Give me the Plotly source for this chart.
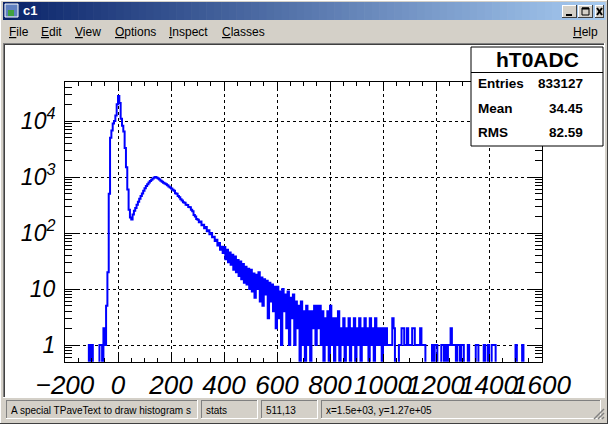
import plotly.graph_objects as go

W, H = 608, 424

# hT0ADC histogram, counts in 5-unit bins from -200 to 1600
bin_start = -200
bin_width = 5

counts_m200 = [0, 0, 0, 0, 0, 0, 0, 0, 0, 0, 0, 0, 0, 0, 0, 0, 0, 0, 1, 0]
counts_m100 = [1, 0, 0, 0, 0, 0, 1, 1, 0, 2, 1, 5, 20, 500, 5000, 6800, 9000, 10000, 12500, 20000]
counts_0 = [28000, 21000, 11000, 8200, 6500, 3300, 1500, 600, 260, 190,
            175, 215, 250, 280, 320, 360, 410, 460, 510, 570]
counts_100 = [630, 690, 740, 800, 850, 890, 940, 985, 1000, 975,
              940, 900, 860, 820, 790, 765, 745, 715, 680, 650]
counts_200 = [625, 590, 570, 515, 505, 460, 435, 400, 380, 355,
              348, 320, 315, 292, 288, 260, 245, 210, 198, 178]
counts_300 = [172, 155, 160, 138, 140, 122, 128, 108, 112, 95,
              100, 84, 86, 72, 76, 60, 66, 50, 57, 44]
counts_400 = [56, 34, 50, 30, 45, 27, 41, 22, 38, 20, 33, 17, 31, 15, 28, 13, 25, 12, 23, 10]
counts_500 = [22, 9, 19, 7, 18, 10, 20, 6, 16, 5, 15, 8, 14, 3, 13, 6, 12, 4, 11, 2]
counts_600 = [11, 3, 9, 1, 10, 4, 8, 2, 9, 1, 7, 3, 8, 1, 6, 2, 5, 0, 6, 1]
counts_700 = [4, 0, 5, 1, 4, 0, 4, 2, 5, 1, 5, 2, 5, 1, 4, 0, 3, 1, 4, 0]
counts_800 = [5, 1, 3, 0, 3, 1, 4, 0, 2, 1, 3, 0, 2, 1, 3, 0, 2, 1, 3, 0]
counts_900 = [2, 1, 3, 0, 2, 1, 3, 1, 2, 0, 3, 1, 2, 0, 3, 1, 2, 1, 2, 0]
counts_1000 = [2, 1, 2, 1, 1, 1, 1, 3, 2, 0, 0, 0, 1, 1, 2, 2, 1, 1, 2, 1]
counts_1100 = [1, 1, 2, 2, 1, 1, 1, 1, 2, 1, 1, 1, 0, 0, 0, 0, 0, 1, 0, 1]
counts_1200 = [1, 0, 0, 0, 1, 1, 0, 1, 0, 1, 1, 2, 1, 1, 1, 0, 1, 1, 0, 1]
counts_1300 = [1, 0, 0, 0, 1, 0, 0, 0, 0, 0, 1, 1, 0, 0, 0, 0, 1, 0, 0, 1]
counts_1400 = [0, 0, 1, 1, 1, 0, 0, 0, 0, 0, 0, 0, 0, 0, 0, 0, 0, 0, 0, 0]
counts_1500 = [1, 0, 0, 0, 0, 1, 0, 0, 0, 0, 0, 0, 0, 0, 0, 0, 0, 0, 0, 0]

counts = (counts_m200 + counts_m100 + counts_0 + counts_100 + counts_200 + counts_300
          + counts_400 + counts_500 + counts_600 + counts_700 + counts_800 + counts_900
          + counts_1000 + counts_1100 + counts_1200 + counts_1300 + counts_1400 + counts_1500)

x_ticks = [-200, 0, 200, 400, 600, 800, 1000, 1200, 1400, 1600]
y_ticks = [1, 10, 100, 1000, 10000]
y_ticktext = ["1", "10", "10<sup>2</sup>", "10<sup>3</sup>", "10<sup>4</sup>"]

stats_title = "hT0ADC"
stats_names = ["Entries", "Mean", "RMS"]
stats_values = ["833127", "34.45", "82.59"]

menu_items = ["<u>F</u>ile", "<u>E</u>dit", "<u>V</u>iew", "<u>O</u>ptions", "<u>I</u>nspect", "<u>C</u>lasses"]
menu_x = [8, 40, 74, 114, 168, 221]
status_texts = ["A special TPaveText to draw histogram s", "stats", "511,13", "x=1.5e+03, y=1.27e+05"]
status_x = [(6, 198), (201, 258), (261, 318), (321, 601)]

GRAY = "#d4d0c8"
FONT = "Liberation Sans"


def px(x):
    return x / W


def py(y):
    return 1 - y / H


shapes = []
annotations = []


def rect(x0, y0, x1, y1, fill=None, line=None, lw=1, layer="below"):
    shapes.append(dict(type="rect", xref="paper", yref="paper",
                       x0=px(x0), x1=px(x1), y0=py(y1), y1=py(y0),
                       fillcolor=fill if fill else "rgba(0,0,0,0)",
                       line=dict(color=line if line else "rgba(0,0,0,0)", width=lw if line else 0),
                       layer=layer))


def hline(x0, x1, y, color, lw=1, layer="below"):
    shapes.append(dict(type="line", xref="paper", yref="paper",
                       x0=px(x0), x1=px(x1), y0=py(y), y1=py(y),
                       line=dict(color=color, width=lw), layer=layer))


def vline(x, y0, y1, color, lw=1, layer="below"):
    shapes.append(dict(type="line", xref="paper", yref="paper",
                       x0=px(x), x1=px(x), y0=py(y0), y1=py(y1),
                       line=dict(color=color, width=lw), layer=layer))


def text(x, y, s, size=12, color="black", anchor="left", bold=False, family=FONT):
    annotations.append(dict(xref="paper", yref="paper", x=px(x), y=py(y), text=s,
                            showarrow=False, xanchor=anchor, yanchor="middle",
                            borderpad=0,
                            font=dict(family=family, size=size, color=color,
                                      weight="bold" if bold else "normal")))


def sunken(x0, y0, x1, y1):
    hline(x0, x1, y0 + 0.5, "#808080")
    vline(x0 + 0.5, y0, y1, "#808080")
    hline(x0, x1, y1 - 0.5, "#ffffff")
    vline(x1 - 0.5, y0, y1, "#ffffff")


# window frame
hline(0, W, 0.5, "#ffffff")
vline(0.5, 0, H, "#ffffff")
hline(0, W, H - 0.5, "#404040")
vline(W - 0.5, 0, H, "#404040")

# title bar gradient
n_strips = 80
tx0, tx1 = 3, 605
c0 = (10, 36, 106)
c1 = (166, 202, 240)
for i in range(n_strips):
    f = i / (n_strips - 1)
    col = "rgb(%d,%d,%d)" % tuple(round(a + (b - a) * f) for a, b in zip(c0, c1))
    xa = tx0 + (tx1 - tx0) * i / n_strips
    xb = tx0 + (tx1 - tx0) * (i + 1) / n_strips + 0.6
    rect(xa, 2, xb, 20, fill=col)

# icon
rect(5, 4, 18, 17, fill="#6080c0", line="#ffffff", lw=1)
rect(8, 10, 14, 16, fill="#40a040")
text(22, 11, "c1", size=13, color="white", bold=True)

# window buttons
for bx0, bx1 in [(562, 577), (578, 593), (595, 604)]:
    rect(bx0, 5, bx1, 18, fill=GRAY)
    hline(bx0, bx1, 5.5, "#ffffff")
    vline(bx0 + 0.5, 5, 18, "#ffffff")
    hline(bx0, bx1, 17.5, "#404040")
    vline(bx1 - 0.5, 5, 18, "#404040")
hline(566, 572, 15, "black", lw=2)
rect(582, 8, 589, 15, line="black", lw=1)
hline(582, 589, 8.5, "black", lw=2)
shapes.append(dict(type="line", xref="paper", yref="paper", x0=px(597), x1=px(602),
                   y0=py(8), y1=py(15), line=dict(color="black", width=2)))
shapes.append(dict(type="line", xref="paper", yref="paper", x0=px(597), x1=px(602),
                   y0=py(15), y1=py(8), line=dict(color="black", width=2)))

# menu bar
for s, mx in zip(menu_items, menu_x):
    text(mx, 32, s, size=12)
text(599, 32, "<u>H</u>elp", size=12, anchor="right")

# canvas area (sunken, white)
hline(3, 605, 43.5, "#808080")
vline(3.5, 43, 398, "#808080")
hline(4, 604, 44.5, "#404040")
vline(4.5, 44, 397, "#404040")
hline(3, 605, 397.5, "#ffffff")
vline(604.5, 43, 398, "#ffffff")
rect(5, 45, 604, 397, fill="white")

# status bar
for (sx0, sx1), s in zip(status_x, status_texts):
    sunken(sx0, 400, sx1, 419)
    text(sx0 + 4, 410, s, size=10)
for k in range(3):
    shapes.append(dict(type="line", xref="paper", yref="paper",
                       x0=px(594 + 4 * k), x1=px(604), y0=py(419), y1=py(409 + 4 * k),
                       line=dict(color="#808080", width=1.5)))

# stats box
bx0, by0, bx1, by1 = 471, 47, 603, 146
rect(bx0, by0, bx1, by1, fill="white", line="black", lw=1, layer="above")
hline(bx0, bx1, 72.5, "black", layer="above")
text((bx0 + bx1) / 2, 60, stats_title, size=21, bold=True)
annotations[-1]["xanchor"] = "center"
for name, val, ry in zip(stats_names, stats_values, [83, 108, 132]):
    text(477, ry, name, size=13.5, bold=True)
    text(584, ry, val, size=13.5, bold=True, anchor="right")

# histogram outline
edges = [bin_start + bin_width * i for i in range(len(counts) + 1)]
y_line = [c if c > 0 else 0.01 for c in counts]
y_line.append(y_line[-1])

fig = go.Figure()
fig.add_trace(go.Scatter(x=edges, y=y_line, mode="lines",
                         line=dict(color="#0000ff", width=2, shape="hv"),
                         hoverinfo="skip", showlegend=False))

minor_y = [m * 10 ** d for d in range(-1, 5) for m in range(2, 10)]

fig.update_layout(
    width=W, height=H,
    margin=dict(l=0, r=0, t=0, b=0, pad=0, autoexpand=False),
    paper_bgcolor=GRAY,
    plot_bgcolor="white",
    showlegend=False,
    shapes=shapes,
    annotations=annotations,
    xaxis=dict(
        domain=[65 / W, 542 / W], range=[-200, 1600], automargin=False,
        tickmode="array", tickvals=x_ticks,
        ticks="inside", ticklen=8, tickcolor="black", tickwidth=1,
        minor=dict(dtick=50, tick0=0, ticks="inside", ticklen=4, tickcolor="black", showgrid=False),
        showgrid=True, gridcolor="black", gridwidth=1, griddash="3px,3px",
        showline=True, linecolor="black", linewidth=1, mirror="ticks",
        zeroline=False, tickangle=0,
        tickfont=dict(family=FONT, size=26, color="black", style="italic"),
    ),
    yaxis=dict(
        type="log", automargin=False,
        domain=[1 - 361.7 / H, 1 - 81.7 / H], range=[-0.298, 4.702],
        tickmode="array", tickvals=y_ticks, ticktext=y_ticktext,
        ticks="inside", ticklen=14, tickcolor="black", tickwidth=1,
        minor=dict(tickmode="array", tickvals=minor_y, ticks="inside", ticklen=7,
                   tickcolor="black", showgrid=False),
        showgrid=True, gridcolor="black", gridwidth=1, griddash="3px,3px",
        showline=True, linecolor="black", linewidth=1, mirror="ticks",
        zeroline=False, ticklabelstandoff=4,
        tickfont=dict(family=FONT, size=23, color="black", style="italic"),
    ),
)

# the page body has a default 8px margin; drop it so the window fills the view
fig.write_html("out.html", config={"displayModeBar": False},
               post_script="document.body.style.margin='0px';")
